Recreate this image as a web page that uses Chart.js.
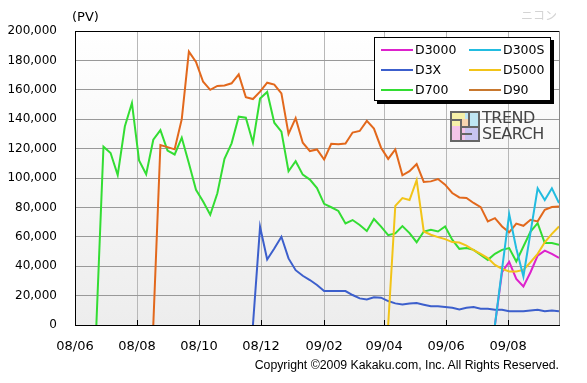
<!DOCTYPE html>
<html>
<head>
<meta charset="utf-8">
<script src="https://cdn.jsdelivr.net/npm/chart.js@4.4.0/dist/chart.umd.min.js"></script>
<style>
  body { margin: 0; background: #fff; }
  #wrap { position: relative; width: 587px; height: 383px; font-family: "DejaVu Sans", sans-serif; color: #000; }
  #chart { position: absolute; left: 0; top: 0; }
  .pv { position: absolute; left: 72px; top: 9px; font-size: 13px; }
  .maker { position: absolute; right: 30px; top: 6px; font-size: 12px; color: #d4d4d4; font-family: "Noto Sans CJK JP", sans-serif; }
  .legend { position: absolute; left: 374px; top: 37px; width: 175px; height: 62px; background: #fff;
            border: 1px solid #000; box-shadow: 3px 3px 0 #000; }
  .legend .item { position: absolute; height: 14px; font-size: 12.5px; line-height: 14px; }
  .legend .item span.ln { position: absolute; left: 0; top: 6px; width: 32px; height: 2px; }
  .legend .item span.tx { position: absolute; left: 34px; top: 0; white-space: nowrap; }
  .logo { position: absolute; left: 450px; top: 111px; }
  .logo .icon { position: absolute; left: 0; top: 0; width: 26px; height: 27px; border: 2px solid #666; }
  .logo .icon div { position: absolute; }
  .logo .words { position: absolute; left: 32px; top: -1px; font-size: 16px; line-height: 16px; color: #444; letter-spacing: -0.5px; }
  .copy { position: absolute; right: 28px; top: 358px; font-size: 12.3px; font-family: "Liberation Sans", sans-serif; white-space: nowrap; }
</style>
</head>
<body>
<div id="wrap">
  <canvas id="chart" width="587" height="383"></canvas>
  <div class="pv">(PV)</div>
  <div class="maker">ニコン</div>
  <div class="legend" id="legend"></div>
  <div class="logo">
    <div class="icon">
      <div style="left:0;top:0;width:13px;height:13px;background:#f6f0a8;"></div>
      <div style="left:13px;top:0;width:13px;height:13px;background:#bfe6f4;"></div>
      <div style="left:0;top:13px;width:13px;height:14px;background:#f4c4e8;"></div>
      <div style="left:13px;top:13px;width:13px;height:14px;background:#c8c4f0;"></div>
      <div style="left:8px;top:6px;width:10px;height:8px;background:#f6d4b0;"></div>
      <div style="left:0;top:6px;width:9px;height:2px;background:#666;"></div>
      <div style="left:8px;top:6px;width:2px;height:21px;background:#666;"></div>
      <div style="left:16px;top:0;width:2px;height:14px;background:#666;"></div>
      <div style="left:10px;top:13px;width:16px;height:2px;background:#666;"></div>
      <div style="left:10px;top:20px;width:10px;height:2px;background:#666;"></div>
    </div>
    <div class="words">TREND<br>SEARCH</div>
  </div>
  <div class="copy">Copyright ©2009 Kakaku.com, Inc. All Rights Reserved.</div>
</div>
<script>
// x axis in days since 2008/06/01, one point per week
var tickDays = [0, 61, 122, 183, 245, 304, 365, 426];
var tickLabels = ['08/06', '08/08', '08/10', '08/12', '09/02', '09/04', '09/06', '09/08'];
var lastDay = 476;

var seriesNames = ['D3000', 'D300S', 'D3X', 'D5000', 'D700', 'D90'];
var seriesColors = ['#dd22cc', '#22bce0', '#3c5fcc', '#f2c418', '#33dd33', '#e2681c'];
var legendColors = ['#dd22cc', '#22bce0', '#3c5fcc', '#f2c418', '#33dd33', '#c8782e'];
var seriesOrder = [2, 0, 5, 1, 4, 3];
// week index where each series begins
var seriesStart = [59, 59, 25, 44, 3, 11];

var d3000 = [0, 36000, 43000, 31400, 26200, 35900, 47200, 50600, 48400, 45600];
var d300s = [0, 38000, 75500, 52000, 33000, 63000, 93000, 85000, 93000, 83000];
var d3x = [0, 66800, 44600, 52000, 60000, 45300, 37300, 33500, 30600, 27200,
  23100, 23100, 23100, 23100, 20400, 18100, 17400, 18800, 18600, 16300,
  14700, 14000, 14700, 14900, 13800, 12700, 12700, 12200, 11700, 10600,
  11700, 12200, 11000, 11000, 10400, 10400, 9300, 9300, 9300, 9900,
  10400, 9300, 9900, 9300];
var d5000 = [0, 81000, 86300, 85000, 98500, 63600, 61400, 59800, 58400, 56400,
  56100, 54000, 51000, 48400, 45500, 40900, 38200, 36400, 36400, 37500,
  42700, 48400, 56300, 62000, 67000];
var d700 = [0, 121300, 117000, 102000, 135000, 151000, 112000, 102500, 126000, 132600,
  118600, 116000, 127400, 110000, 92000, 84000, 75000, 89600, 113000, 123600,
  141700, 141000, 124000, 154000, 158500, 137600, 131500, 104600, 111400, 102300,
  98900, 93100, 82400, 80100, 77600, 69100, 71400, 68000, 63900, 72100,
  66900, 61100, 62300, 67300, 62500, 56300, 63600, 64800, 63600, 67000,
  58000, 51800, 52300, 51100, 47700, 44300, 48400, 51100, 52300, 43200,
  53400, 63600, 69300, 55700, 55700, 54500];
var d90 = [0, 122400, 121000, 119500, 140000, 186000, 179000, 165500, 160000, 162600,
  163000, 164400, 170500, 155000, 153700, 158700, 164800, 163500, 157600, 130000,
  140700, 124000, 118300, 119400, 112600, 123300, 122900, 123500, 130900, 132000,
  138900, 133600, 120600, 113000, 119400, 101800, 104600, 109500, 97300, 97700,
  99300, 95500, 89800, 86800, 86400, 83000, 80200, 70500, 72700, 67000,
  63000, 69000, 67500, 71600, 70500, 78400, 80200, 80700];

var seriesValues = [d3000, d300s, d3x, d5000, d700, d90];

function toPoints(start, values) {
  return values.map(function (v, i) { return { x: (start + i) * 7, y: v }; });
}

var datasets = seriesNames.map(function (name, i) {
  return {
    label: name,
    data: toPoints(seriesStart[i], seriesValues[i]),
    borderColor: seriesColors[i],
    backgroundColor: seriesColors[i],
    borderWidth: 2,
    pointRadius: 0,
    tension: 0,
    order: seriesOrder[i]
  };
});

// legend, two columns
var legendBox = document.getElementById('legend');
seriesNames.forEach(function (name, i) {
  var item = document.createElement('div');
  item.className = 'item';
  item.style.left = (i % 2 === 0 ? 6 : 94) + 'px';
  item.style.top = (5 + Math.floor(i / 2) * 20) + 'px';
  item.innerHTML = '<span class="ln" style="background:' + legendColors[i] + '"></span><span class="tx">' + name + '</span>';
  legendBox.appendChild(item);
});

var plotBack = {
  id: 'plotBack',
  beforeDraw: function (chart) {
    var ctx = chart.ctx, a = chart.chartArea;
    ctx.save();
    ctx.fillStyle = '#fff';
    ctx.fillRect(0, 0, chart.width, chart.height);
    var g = ctx.createLinearGradient(0, a.top, 0, a.bottom);
    g.addColorStop(0, '#ffffff');
    g.addColorStop(1, '#ededed');
    ctx.fillStyle = g;
    ctx.fillRect(a.left, a.top, a.right - a.left, a.bottom - a.top);
    ctx.restore();
  },
  afterDraw: function (chart) {
    var ctx = chart.ctx, a = chart.chartArea, xs = chart.scales.x;
    ctx.save();
    ctx.strokeStyle = '#888';
    ctx.lineWidth = 1;
    ctx.beginPath();
    ctx.moveTo(a.right + 0.5, a.top);
    ctx.lineTo(a.right + 0.5, a.bottom);
    ctx.stroke();
    ctx.strokeStyle = '#000';
    ctx.beginPath();
    tickDays.forEach(function (d) {
      var px = Math.round(xs.getPixelForValue(d)) + 0.5;
      ctx.moveTo(px, a.bottom);
      ctx.lineTo(px, a.bottom - 5);
    });
    ctx.stroke();
    ctx.restore();
  }
};

Chart.defaults.font.family = '"DejaVu Sans", sans-serif';
Chart.defaults.color = '#000';

new Chart(document.getElementById('chart'), {
  type: 'line',
  data: { datasets: datasets },
  options: {
    responsive: false,
    animation: false,
    devicePixelRatio: 1,
    layout: { padding: { top: 31, right: 28, bottom: 0, left: 0 } },
    plugins: { legend: { display: false }, tooltip: { enabled: false } },
    scales: {
      x: {
        type: 'linear',
        min: 0,
        max: lastDay,
        afterBuildTicks: function (axis) {
          axis.ticks = tickDays.map(function (d) { return { value: d }; });
        },
        afterFit: function (scale) { scale.height = 58; },
        ticks: {
          autoSkip: false,
          maxRotation: 0,
          padding: 14,
          font: { size: 13 },
          callback: function (value) {
            var i = tickDays.indexOf(value);
            return i < 0 ? '' : tickLabels[i];
          }
        },
        grid: { color: '#b8b8b8', drawTicks: false },
        border: { color: '#000', width: 1 }
      },
      y: {
        min: 0,
        max: 200000,
        afterFit: function (scale) { scale.width = 75; },
        ticks: {
          stepSize: 20000,
          padding: 18,
          font: { size: 12 },
          callback: function (value) { return value.toLocaleString('en-US'); }
        },
        grid: {
          drawTicks: false,
          color: function (ctx) { return ctx.tick && ctx.tick.value === 200000 ? '#000' : '#999'; }
        },
        border: { color: '#000', width: 1 }
      }
    }
  },
  plugins: [plotBack]
});
</script>
</body>
</html>
